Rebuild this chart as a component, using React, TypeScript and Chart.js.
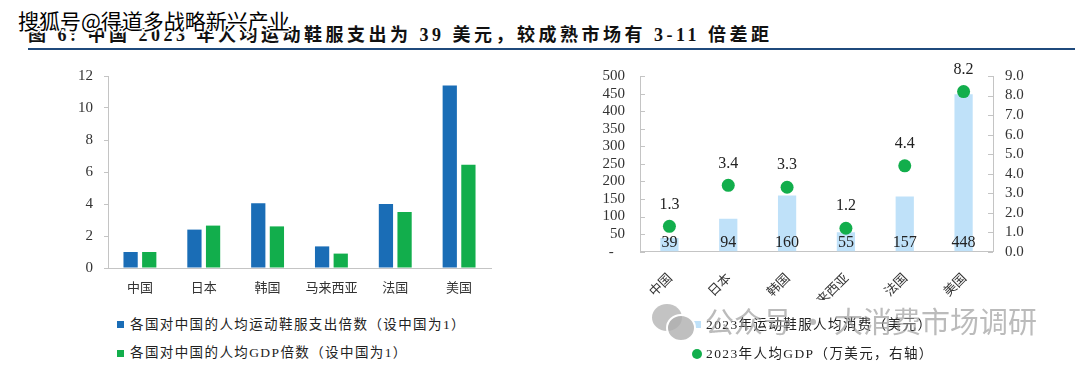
import React, { useEffect, useRef } from 'react';
import { Chart, registerables } from 'chart.js';

Chart.register(...registerables);

// ---------- data ----------
const categories = ['中国', '日本', '韩国', '马来西亚', '法国', '美国'];
const spendMultiple = [1.0, 2.4, 4.05, 1.35, 4.0, 11.4];
const gdpMultiple = [1.0, 2.65, 2.6, 0.9, 3.5, 6.45];
const spendPerCapita = [39, 94, 160, 55, 157, 448];
const gdpPerCapita = [1.3, 3.4, 3.3, 1.2, 4.4, 8.2];

const leftSeriesNames = ['各国对中国的人均运动鞋服支出倍数（设中国为1）', '各国对中国的人均GDP倍数（设中国为1）'];
const rightSeriesNames = ['2023年运动鞋服人均消费（美元）', '2023年人均GDP（万美元，右轴）'];
const titleText = '图 6: 中国 2023 年人均运动鞋服支出为 39 美元，较成熟市场有 3-11 倍差距';
const sourceMark = '搜狐号@得道多战略新兴产业';
const wechatMark = '公众号 · 大消费市场调研';

// ---------- style ----------
const BLUE = '#1a6db6';
const GREEN = '#12ae4c';
const LIGHT_BLUE = '#bfe1f9';
const AXIS = '#c4c4c4';
const TEXT = '#333333';
const SERIF = "'Liberation Serif', 'Noto Sans CJK SC', serif";
const CJK = "'Noto Sans CJK SC', sans-serif";

function LeftChart() {
  const ref = useRef<HTMLCanvasElement | null>(null);
  useEffect(() => {
    if (!ref.current) return;
    const chart = new Chart(ref.current, {
      type: 'bar',
      data: {
        labels: categories,
        datasets: [
          { label: leftSeriesNames[0], data: spendMultiple, backgroundColor: BLUE, categoryPercentage: 0.584, barPercentage: 0.765 },
          { label: leftSeriesNames[1], data: gdpMultiple, backgroundColor: GREEN, categoryPercentage: 0.584, barPercentage: 0.765 },
        ],
      },
      options: {
        animation: false,
        responsive: false,
        maintainAspectRatio: false,
        layout: { padding: { left: 0, right: 39, top: 26, bottom: 0 } },
        plugins: { legend: { display: false }, tooltip: { enabled: false } },
        scales: {
          x: {
            grid: { display: false },
            border: { color: AXIS, width: 1 },
            ticks: { font: { family: CJK, size: 13 }, color: TEXT, padding: 3, maxRotation: 0 },
            afterFit: (s: any) => { s.height = 32; },
          },
          y: {
            min: 0,
            max: 12,
            ticks: { stepSize: 2, autoSkip: false, font: { family: SERIF, size: 15 }, color: TEXT, padding: 11 },
            grid: { drawOnChartArea: false, drawTicks: true, tickLength: 4, color: AXIS },
            border: { color: AXIS, width: 1 },
            afterFit: (s: any) => { s.width = 108; },
          },
        },
      },
    } as any);
    return () => chart.destroy();
  }, []);
  return <canvas ref={ref} width={530} height={250} style={{ position: 'absolute', left: 0, top: 50, width: 530, height: 250 }} />;
}

function RightChart() {
  const ref = useRef<HTMLCanvasElement | null>(null);
  useEffect(() => {
    if (!ref.current) return;
    const innerTicks = {
      id: 'innerTicks',
      afterDraw(chart: any) {
        const ctx = chart.ctx;
        ctx.save();
        ctx.strokeStyle = AXIS;
        ctx.lineWidth = 1;
        ['y', 'y1'].forEach((id) => {
          const sc = chart.scales[id];
          const isLeft = sc.position === 'left';
          const x = isLeft ? sc.right : sc.left;
          sc.ticks.forEach((t: any) => {
            const py = Math.round(sc.getPixelForValue(t.value)) + 0.5;
            ctx.beginPath();
            ctx.moveTo(x, py);
            ctx.lineTo(isLeft ? x + 5 : x - 5, py);
            ctx.stroke();
          });
        });
        ctx.restore();
      },
    };
    const valueLabels = {
      id: 'valueLabels',
      afterDatasetsDraw(chart: any) {
        const ctx = chart.ctx;
        ctx.save();
        ctx.font = `16px ${SERIF}`;
        ctx.fillStyle = '#222';
        ctx.textAlign = 'center';
        ctx.textBaseline = 'middle';
        const barMeta = chart.getDatasetMeta(0);
        barMeta.data.forEach((el: any, i: number) => {
          ctx.fillText(String(spendPerCapita[i]), el.x, chart.chartArea.bottom - 9);
        });
        const ptMeta = chart.getDatasetMeta(1);
        ptMeta.data.forEach((el: any, i: number) => {
          ctx.fillText(gdpPerCapita[i].toFixed(1), el.x, el.y - 22);
        });
        ctx.restore();
      },
    };
    const chart = new Chart(ref.current, {
      type: 'bar',
      data: {
        labels: categories,
        datasets: [
          { type: 'bar', label: rightSeriesNames[0], data: spendPerCapita, backgroundColor: LIGHT_BLUE, yAxisID: 'y', categoryPercentage: 1, barPercentage: 0.31, order: 2 },
          { type: 'line', label: rightSeriesNames[1], data: gdpPerCapita, yAxisID: 'y1', showLine: false, pointRadius: 6.5, pointBackgroundColor: GREEN, pointBorderWidth: 0, borderColor: GREEN, order: 1 },
        ],
      },
      options: {
        animation: false,
        responsive: false,
        maintainAspectRatio: false,
        layout: { padding: { left: 0, right: 0, top: 26, bottom: 40 } },
        plugins: { legend: { display: false }, tooltip: { enabled: false } },
        scales: {
          x: {
            grid: { display: false },
            border: { color: AXIS, width: 1 },
            ticks: { font: { family: CJK, size: 13 }, color: TEXT, padding: 10, minRotation: 45, maxRotation: 45, autoSkip: false },
            afterFit: (s: any) => { s.height = 48.3; },
          },
          y: {
            position: 'left',
            min: 0,
            max: 500,
            ticks: { stepSize: 50, autoSkip: false, font: { family: SERIF, size: 15 }, color: TEXT, padding: 15, callback: (v: any) => (v === 0 ? '-   ' : String(v)) },
            grid: { drawOnChartArea: false, drawTicks: false },
            border: { color: AXIS, width: 1 },
            afterFit: (s: any) => { s.width = 100; },
          },
          y1: {
            position: 'right',
            min: 0,
            max: 9,
            ticks: { stepSize: 1, autoSkip: false, font: { family: SERIF, size: 15 }, color: TEXT, padding: 12, callback: (v: any) => Number(v).toFixed(1) },
            grid: { drawOnChartArea: false, drawTicks: false },
            border: { color: AXIS, width: 1 },
            afterFit: (s: any) => { s.width = 87; },
          },
        },
      },
      plugins: [innerTicks, valueLabels],
    } as any);
    return () => chart.destroy();
  }, []);
  return <canvas ref={ref} width={540} height={290} style={{ position: 'absolute', left: 540, top: 50, width: 540, height: 290 }} />;
}

const legendText: React.CSSProperties = {
  position: 'absolute',
  fontFamily: SERIF,
  fontSize: 13.5,
  letterSpacing: 1.4,
  lineHeight: '16px',
  color: '#222',
  whiteSpace: 'nowrap',
};

export default function App() {
  return (
    <div style={{ position: 'absolute', left: 0, top: 0, width: 1080, height: 365, background: '#fff', overflow: 'hidden' }}>
      {/* title */}
      <div style={{ position: 'absolute', left: 28, top: 24, fontFamily: SERIF, fontWeight: 700, fontSize: 18, letterSpacing: 3.5, lineHeight: '22px', color: '#111', whiteSpace: 'nowrap' }}>
        {titleText}
      </div>
      <div style={{ position: 'absolute', left: 28, top: 48, width: 1047, height: 2, background: '#1f4a7c' }} />
      <div
        style={{
          position: 'absolute', left: 18, top: 7, fontFamily: CJK, fontSize: 21, lineHeight: '26px', color: '#000', whiteSpace: 'nowrap',
          textShadow: '1px 1px 0 #fff, -1px -1px 0 #fff, 1px -1px 0 #fff, -1px 1px 0 #fff, 2px 0 0 #fff, -2px 0 0 #fff, 0 2px 0 #fff, 0 -2px 0 #fff',
        }}
      >
        {sourceMark}
      </div>

      <LeftChart />
      <RightChart />

      {/* left legend */}
      <div style={{ position: 'absolute', left: 117, top: 321, width: 7, height: 7, background: BLUE }} />
      <div style={{ ...legendText, left: 130, top: 317 }}>{leftSeriesNames[0]}</div>
      <div style={{ position: 'absolute', left: 117, top: 350, width: 7, height: 7, background: GREEN }} />
      <div style={{ ...legendText, left: 130, top: 345 }}>{leftSeriesNames[1]}</div>

      {/* right legend */}
      <div style={{ position: 'absolute', left: 694, top: 321, width: 7, height: 7, background: LIGHT_BLUE }} />
      <div style={{ ...legendText, left: 706, top: 317 }}>{rightSeriesNames[0]}</div>
      <div style={{ position: 'absolute', left: 692, top: 349, width: 10, height: 10, borderRadius: '50%', background: GREEN }} />
      <div style={{ ...legendText, left: 706, top: 346 }}>{rightSeriesNames[1]}</div>

      {/* wechat watermark */}
      <div style={{ position: 'absolute', left: 652, top: 304, width: 30, height: 27, borderRadius: '50%', background: 'rgba(170,170,170,0.7)' }} />
      <div style={{ position: 'absolute', left: 666, top: 314, width: 26, height: 24, borderRadius: '50%', background: 'rgba(175,175,175,0.8)', border: '2px solid #fff' }} />
      <div style={{ position: 'absolute', left: 705, top: 301, fontFamily: CJK, fontSize: 29, lineHeight: '38px', color: 'rgba(150,150,150,0.65)', whiteSpace: 'nowrap' }}>
        {wechatMark}
      </div>
    </div>
  );
}
